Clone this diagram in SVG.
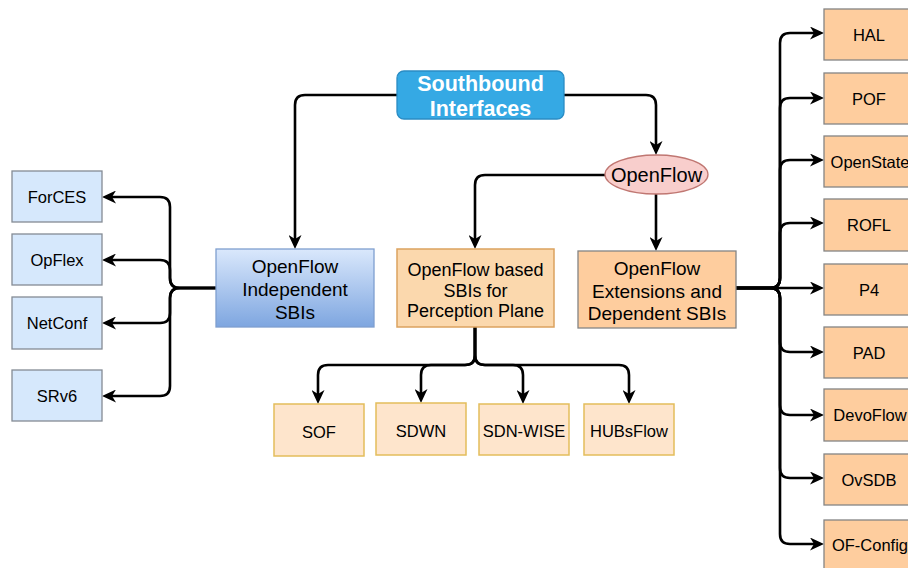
<svg xmlns="http://www.w3.org/2000/svg" width="908" height="568" viewBox="0 0 908 568">
  <defs>
    <marker id="arrow" markerUnits="userSpaceOnUse" viewBox="0 0 14 13" markerWidth="14" markerHeight="13" refX="4" refY="6.5" orient="auto">
      <path d="M0,0 L14,6.5 L0,13 L4,6.5 z" fill="#000"/>
    </marker>
    <linearGradient id="blueGrad" x1="0" y1="0" x2="0" y2="1">
      <stop offset="0" stop-color="#dae8fc"/>
      <stop offset="1" stop-color="#7ea6e0"/>
    </linearGradient>
    <style>
      text { font-family: "Liberation Sans", Arial, Helvetica, sans-serif; fill: #000; text-anchor: middle; }
      .edge { fill: none; stroke: #000; stroke-width: 2.6; stroke-linejoin: round; }
      .arr { marker-end: url(#arrow); }
      .leftBox { fill: #d6e8fc; stroke: #848b94; stroke-width: 1.3; }
      .rightBox { fill: #fecd9e; stroke: #848484; stroke-width: 1.3; }
      .botBox { fill: #fee5cc; stroke: #e3bd5b; stroke-width: 1.5; }
      .small { font-size: 16.5px; }
      .mid { font-size: 19px; }
    </style>
  </defs>

  <!-- connectors -->
  <g id="connectors">
    <!-- root to first level -->
    <path class="edge arr" d="M397 95 L305 95 Q295 95 295 105 L295 239"/>
    <path class="edge arr" d="M564 95 L646 95 Q656 95 656 105 L656 145"/>
    <path class="edge arr" d="M605 175 L485 175 Q475 175 475 185 L475 239"/>
    <path class="edge arr" d="M656 194 L656 241"/>

    <!-- independent SBIs fan-out -->
    <path class="edge arr" d="M216 288 L180 288 Q170 288 170 278 L170 207 Q170 197 160 197 L112 197"/>
    <path class="edge arr" d="M216 288 L180 288 Q170 288 170 278 L170 270 Q170 260 160 260 L112 260"/>
    <path class="edge arr" d="M216 288 L180 288 Q170 288 170 298 L170 313 Q170 323 160 323 L112 323"/>
    <path class="edge arr" d="M216 288 L180 288 Q170 288 170 298 L170 386 Q170 396 160 396 L112 396"/>
    <line x1="217" y1="288" x2="242" y2="288" stroke="#9fb5d8" stroke-width="3"/>

    <!-- perception plane fan-out -->
    <path class="edge arr" d="M475 327 L475 355 Q475 365 465 365 L328 365 Q318 365 318 375 L318 394"/>
    <path class="edge arr" d="M475 327 L475 355 Q475 365 465 365 L431 365 Q421 365 421 375 L421 393"/>
    <path class="edge arr" d="M475 327 L475 355 Q475 365 485 365 L513 365 Q523 365 523 375 L523 394"/>
    <path class="edge arr" d="M475 327 L475 355 Q475 365 485 365 L619 365 Q629 365 629 375 L629 394"/>

    <!-- extensions fan-out -->
    <path class="edge arr" d="M736 288 L770 288 Q780 288 780 278 L780 43 Q780 33 790 33 L814 33"/>
    <path class="edge arr" d="M736 288 L770 288 Q780 288 780 278 L780 108 Q780 98 790 98 L814 98"/>
    <path class="edge arr" d="M736 288 L770 288 Q780 288 780 278 L780 170 Q780 160 790 160 L814 160"/>
    <path class="edge arr" d="M736 288 L770 288 Q780 288 780 278 L780 233 Q780 223 790 223 L814 223"/>
    <path class="edge arr" d="M736 288 L814 288"/>
    <path class="edge arr" d="M736 288 L770 288 Q780 288 780 298 L780 342 Q780 352 790 352 L814 352"/>
    <path class="edge arr" d="M736 288 L770 288 Q780 288 780 298 L780 405 Q780 415 790 415 L814 415"/>
    <path class="edge arr" d="M736 288 L770 288 Q780 288 780 298 L780 468 Q780 478 790 478 L814 478"/>
    <path class="edge arr" d="M736 288 L770 288 Q780 288 780 298 L780 534 Q780 544 790 544 L814 544"/>
  </g>

  <!-- root -->
  <g id="southbound">
    <rect x="397" y="71" width="167" height="48" rx="7" fill="#35a9e4" stroke="#2a8cc4" stroke-width="1.3"/>
    <text x="480.5" y="91" font-size="21.5" font-weight="bold" style="fill:#fff">Southbound</text>
    <text x="480.5" y="116" font-size="21.5" font-weight="bold" style="fill:#fff">Interfaces</text>
  </g>

  <g id="openflow">
    <ellipse cx="656.5" cy="174.5" rx="51.5" ry="19.5" fill="#f8cecc" stroke="#c07772" stroke-width="1.3"/>
    <text x="656.5" y="181.5" font-size="20">OpenFlow</text>
  </g>

  <!-- first level -->
  <g id="independent">
    <rect x="216" y="249" width="158" height="78" fill="url(#blueGrad)" stroke="#7f9fcf" stroke-width="1.3"/>
    <text class="mid" x="295" y="272.5">OpenFlow</text>
    <text class="mid" x="295" y="295.5">Independent</text>
    <text class="mid" x="295" y="318.5">SBIs</text>
  </g>

  <g id="perception">
    <rect x="397" y="249" width="157" height="78" fill="#fbd8ad" stroke="#dba25f" stroke-width="1.5"/>
    <text x="475.5" y="276" font-size="18">OpenFlow based</text>
    <text x="475.5" y="297" font-size="18">SBIs for</text>
    <text x="475.5" y="317" font-size="18">Perception Plane</text>
  </g>

  <g id="extensions">
    <rect x="578" y="251" width="158" height="77" class="rightBox"/>
    <text class="mid" x="657" y="274.5">OpenFlow</text>
    <text class="mid" x="657" y="297.5">Extensions and</text>
    <text class="mid" x="657" y="320">Dependent SBIs</text>
  </g>

  <!-- independent SBIs -->
  <g id="forces">
    <rect x="12" y="171" width="90" height="51" class="leftBox"/>
    <text class="small" x="57" y="202.5">ForCES</text>
  </g>
  <g id="opflex">
    <rect x="12" y="234" width="90" height="51" class="leftBox"/>
    <text class="small" x="57" y="265.5">OpFlex</text>
  </g>
  <g id="netconf">
    <rect x="12" y="297" width="90" height="52" class="leftBox"/>
    <text class="small" x="57" y="329">NetConf</text>
  </g>
  <g id="srv6">
    <rect x="12" y="370" width="90" height="51" class="leftBox"/>
    <text class="small" x="57" y="402">SRv6</text>
  </g>

  <!-- perception plane SBIs -->
  <g id="sof">
    <rect x="274" y="404" width="90" height="52" class="botBox"/>
    <text class="small" x="319" y="438">SOF</text>
  </g>
  <g id="sdwn">
    <rect x="376" y="403" width="90" height="52" class="botBox"/>
    <text class="small" x="421" y="437">SDWN</text>
  </g>
  <g id="sdn-wise">
    <rect x="479" y="404" width="90" height="51" class="botBox"/>
    <text class="small" x="524" y="437">SDN-WISE</text>
  </g>
  <g id="hubsflow">
    <rect x="584" y="404" width="90" height="51" class="botBox"/>
    <text class="small" x="629" y="437">HUBsFlow</text>
  </g>

  <!-- extensions and dependent SBIs -->
  <g id="hal">
    <rect x="824" y="9" width="90" height="51" class="rightBox"/>
    <text class="small" x="869" y="40.5">HAL</text>
  </g>
  <g id="pof">
    <rect x="824" y="73" width="90" height="51" class="rightBox"/>
    <text class="small" x="869" y="104.5">POF</text>
  </g>
  <g id="openstate">
    <rect x="824" y="136" width="90" height="51" class="rightBox"/>
    <text class="small" x="870" y="167.5">OpenState</text>
  </g>
  <g id="rofl">
    <rect x="824" y="199" width="90" height="52" class="rightBox"/>
    <text class="small" x="869" y="231">ROFL</text>
  </g>
  <g id="p4">
    <rect x="824" y="264" width="90" height="51" class="rightBox"/>
    <text class="small" x="869" y="295.5">P4</text>
  </g>
  <g id="pad">
    <rect x="824" y="327" width="90" height="51" class="rightBox"/>
    <text class="small" x="869" y="358.5">PAD</text>
  </g>
  <g id="devoflow">
    <rect x="824" y="389" width="90" height="52" class="rightBox"/>
    <text class="small" x="870" y="421">DevoFlow</text>
  </g>
  <g id="ovsdb">
    <rect x="824" y="454" width="90" height="51" class="rightBox"/>
    <text class="small" x="869" y="485.5">OvSDB</text>
  </g>
  <g id="of-config">
    <rect x="824" y="520" width="90" height="51" class="rightBox"/>
    <text class="small" x="870" y="551">OF-Config</text>
  </g>
</svg>
